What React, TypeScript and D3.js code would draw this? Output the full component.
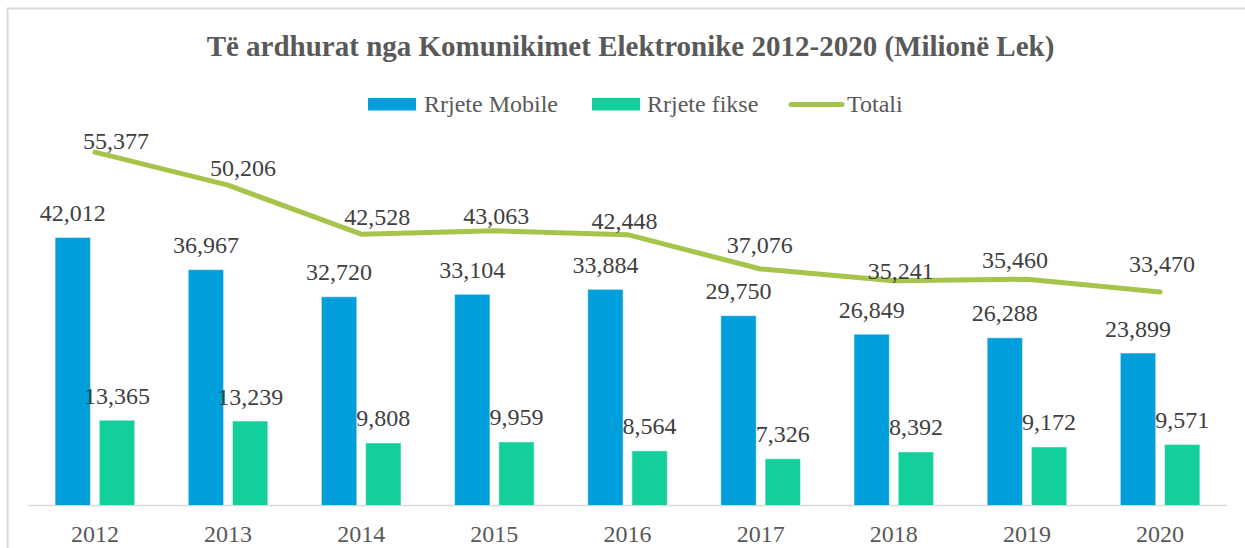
import React from "react";
import * as d3 from "d3";

const years = ["2012", "2013", "2014", "2015", "2016", "2017", "2018", "2019", "2020"];
const mobile = [42012, 36967, 32720, 33104, 33884, 29750, 26849, 26288, 23899];
const fixed = [13365, 13239, 9808, 9959, 8564, 7326, 8392, 9172, 9571];
const total = [55377, 50206, 42528, 43063, 42448, 37076, 35241, 35460, 33470];
const seriesNames = ["Rrjete Mobile", "Rrjete fikse", "Totali"];
const title = "Të ardhurat nga Komunikimet Elektronike 2012-2020 (Milionë Lek)";

// label placement nudges for the Totali labels (layout only)
const totalLabelDx = [21, 15, 16, 2, -3, -1, 7, -12, 2];
const totalLabelDy = [-3, -9, -9, -7, -6, -16, -2, -11, -20];

const W = 1245;
const H = 548;
const BLUE = "#009fdb";
const GREEN = "#12cf9c";
const LINE = "#a5c449";
const FONT = "Liberation Serif";

export default function App() {
  if (typeof document !== "undefined") {
    document.body.style.margin = "0";
    document.body.style.overflow = "hidden";
  }
  const x0 = d3.scaleBand<string>().domain(years).range([28.3, 1226.7]).padding(0);
  const groupW = 79.6;
  const x1 = d3
    .scaleBand<string>()
    .domain(["m", "f"])
    .range([0, groupW])
    .paddingInner(0.2);
  const y = d3.scaleLinear().domain([0, 60000]).range([505.5, 505.5 - 60000 * 0.00638]);
  const off = (x0.bandwidth() - groupW) / 2;
  const cx = (yr: string) => (x0(yr) as number) + x0.bandwidth() / 2;
  const line = d3
    .line<number>()
    .x((_, i) => cx(years[i]))
    .y((d) => y(d));
  const fmt = d3.format(",");
  const bw = x1.bandwidth();
  const ts = { fontFamily: FONT };

  return (
    <svg
      width={W}
      height={H}
      style={{ position: "absolute", left: 0, top: 0, background: "#fff", fontFamily: FONT }}
    >
      <rect x={0} y={0} width={W} height={H} fill="#fff" />
      <rect x={7.6} y={8.5} width={1400} height={700} fill="none" stroke="#d9d9d9" strokeWidth={2} />
      <text x={630.5} y={56} textAnchor="middle" fontSize={29} fontWeight="bold" fill="#595959" style={ts}>
        {title}
      </text>
      {/* legend */}
      <g fontSize={24} fill="#595959" style={ts}>
        <rect x={368} y={98} width={48} height={12.5} fill={BLUE} />
        <text x={424} y={112} style={ts}>{seriesNames[0]}</text>
        <rect x={592} y={98} width={48} height={12.5} fill={GREEN} />
        <text x={647} y={112} style={ts}>{seriesNames[1]}</text>
        <line x1={791} x2={842} y1={104.5} y2={104.5} stroke={LINE} strokeWidth={5} strokeLinecap="round" />
        <text x={847} y={112} style={ts}>{seriesNames[2]}</text>
      </g>
      {/* axis */}
      <line x1={28.3} x2={1226.7} y1={505.5} y2={505.5} stroke="#d9d9d9" strokeWidth={1.5} />
      <g fontSize={24} fill="#595959" textAnchor="middle" style={ts}>
        {years.map((yr) => (
          <text key={yr} x={cx(yr)} y={542} style={ts}>
            {yr}
          </text>
        ))}
      </g>
      {/* bars */}
      {years.map((yr, i) => {
        const bx = (x0(yr) as number) + off;
        const mx = bx + (x1("m") as number);
        const fx = bx + (x1("f") as number);
        return (
          <g key={yr}>
            <rect x={mx} y={y(mobile[i])} width={bw} height={y(0) - y(mobile[i])} fill={BLUE} stroke="#ffffff" strokeOpacity={0.5} strokeWidth={1} />
            <rect x={fx} y={y(fixed[i])} width={bw} height={y(0) - y(fixed[i])} fill={GREEN} stroke="#ffffff" strokeOpacity={0.5} strokeWidth={1} />
          </g>
        );
      })}
      {/* line */}
      <path d={line(total) || ""} fill="none" stroke={LINE} strokeWidth={5} strokeLinecap="round" strokeLinejoin="round" />
      {/* labels */}
      <g fontSize={24} fill="#404040" textAnchor="middle" style={ts}>
        {years.map((yr, i) => {
          const bx = (x0(yr) as number) + off;
          const mx = bx + (x1("m") as number) + bw / 2;
          const fx = bx + (x1("f") as number) + bw / 2;
          return (
            <g key={yr}>
              <text x={mx} y={y(mobile[i]) - 16.5} style={ts}>{fmt(mobile[i])}</text>
              <text x={fx} y={y(fixed[i]) - 16.5} style={ts}>{fmt(fixed[i])}</text>
              <text x={cx(yr) + totalLabelDx[i]} y={y(total[i]) + totalLabelDy[i]} style={ts}>{fmt(total[i])}</text>
            </g>
          );
        })}
      </g>
    </svg>
  );
}
